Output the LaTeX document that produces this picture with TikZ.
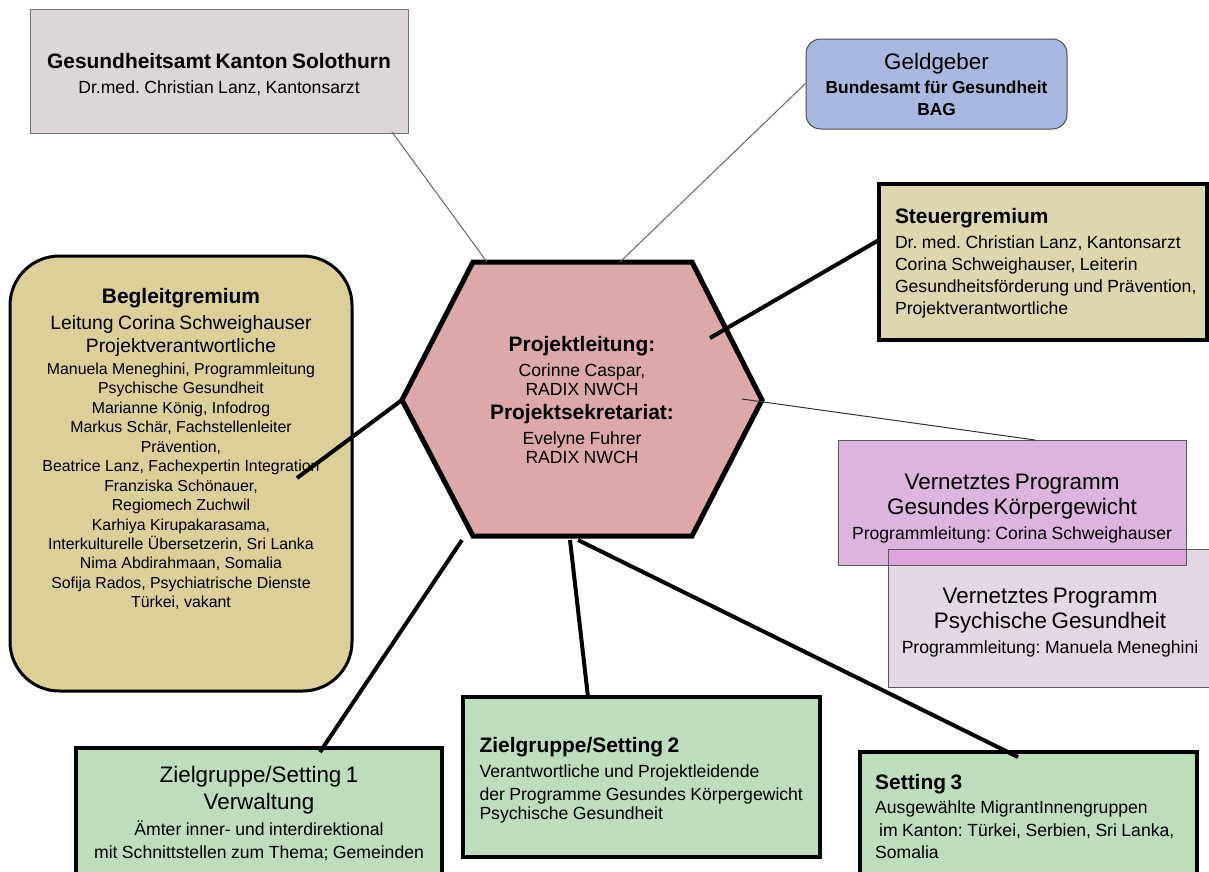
\documentclass[tikz,border=0pt]{standalone}
\usepackage{fontspec}
\setmainfont{Liberation Sans}
\usepackage{tikz}
\usetikzlibrary{positioning}
\frenchspacing

\definecolor{amtgray}{RGB}{220,214,214}
\definecolor{geldblue}{RGB}{169,184,224}
\definecolor{steuersand}{RGB}{221,214,174}
\definecolor{begleitsand}{RGB}{221,207,153}
\definecolor{hexrose}{RGB}{220,168,168}
\definecolor{zielgreen}{RGB}{189,221,189}
\definecolor{gkviolet}{RGB}{221,180,221}
\definecolor{pglilac}{RGB}{228,215,228}
\definecolor{overlapviolet}{RGB}{223,162,223}

\newcommand{\titlefont}{\fontsize{15.7}{18}\selectfont\bfseries}
\newcommand{\headfont}{\fontsize{16.8}{18.75}\selectfont\mdseries}
\newcommand{\midfont}{\fontsize{14.5}{17.25}\selectfont\mdseries}
\newcommand{\bodyfont}{\fontsize{13.2}{16.5}\selectfont\mdseries}
\newcommand{\bodybold}{\fontsize{13}{16.5}\selectfont\bfseries}
\newcommand{\listfont}{\fontsize{11.9}{14.6}\selectfont\mdseries}
\newcommand{\topstrut}[1]{\rule{0pt}{#1}}

\tikzstyle{thinbox} = [draw=black!55, line width=0.75pt, rectangle, inner sep=0pt, outer sep=0pt, align=center]
\tikzstyle{thickbox} = [draw=black, line width=3pt, rectangle, inner xsep=12pt, inner ysep=0pt, outer sep=0pt]
\tikzstyle{thinline} = [draw=black!60, line width=0.75pt]
\tikzstyle{thickline} = [draw=black, line width=3pt]

\begin{document}
\begin{tikzpicture}[x=0.75pt, y=-0.75pt]
\useasboundingbox (0,0) rectangle (1209,871);
\clip (0,0) rectangle (1209,871);

\node [thinbox, fill=amtgray, minimum width=283.5pt, minimum height=93pt, text width=270pt] (amt) at (219,71)
    {\titlefont\topstrut{16pt}Gesundheitsamt Kanton Solothurn\\[2.25pt] \bodyfont Dr.med. Christian Lanz, Kantonsarzt\par};
\node [thinbox, draw=black!70, fill=geldblue, rounded corners=11pt, minimum width=195.75pt, minimum height=67.5pt, text width=185pt] (geld) at (936.5,84)
    {\headfont Geldgeber\\[1.5pt] \bodybold Bundesamt für Gesundheit\\ BAG\par};
\node [thickbox, fill=steuersand, minimum width=246pt, minimum height=117pt, text width=222pt, align=left] (steuer) at (1043,262)
    {\titlefont\topstrut{13.5pt}Steuergremium\\[2.25pt] \bodyfont Dr. med. Christian Lanz, Kantonsarzt\\ Corina Schweighauser, Leiterin\\
     \mbox{Gesundheitsförderung und Prävention,}\\ Projektverantwortliche\par};

% Begleitgremium
\node [thickbox, line width=2.25pt, fill=begleitsand, rounded corners=37pt, minimum width=256.5pt, minimum height=326.25pt] (begleit) at (181,473.5) {};
\node [align=center, inner sep=0pt, text width=250pt] (begleittext) at (181,449)
    {\titlefont Begleitgremium\\[2.25pt] \midfont Leitung Corina Schweighauser\\ Projektverantwortliche\\[1.9pt]
     \listfont Manuela Meneghini, Programmleitung\\ Psychische Gesundheit\\ Marianne König, Infodrog\\
     Markus Schär, Fachstellenleiter\\ Prävention,\\ Beatrice Lanz, Fachexpertin Integration\\
     Franziska Schönauer,\\ Regiomech Zuchwil\\ Karhiya Kirupakarasama,\\
     Interkulturelle Übersetzerin, Sri Lanka\\ Nima Abdirahmaan, Somalia\\
     Sofija Rados, Psychiatrische Dienste\\ Türkei, vakant\par};

% Projektleitung
\coordinate (hex-nw) at (473,262);
\coordinate (hex-ne) at (692,262);
\coordinate (hex-e) at (762,400);
\coordinate (hex-se) at (692,536);
\coordinate (hex-sw) at (473,536);
\coordinate (hex-w) at (402,400);
\filldraw [fill=hexrose, draw=black, line width=3.75pt, line join=miter]
    (hex-nw) -- (hex-ne) -- (hex-e) -- (hex-se) -- (hex-sw) -- (hex-w) -- cycle;
\node [align=center, inner sep=0pt, text width=200pt] (lead) at (582,400)
    {\titlefont Projektleitung:\\[2.25pt] \bodyfont Corinne Caspar,\\[-1.9pt] RADIX NWCH\\
     \titlefont Projektsekretariat:\\[2.25pt] \bodyfont Evelyne Fuhrer\\[-1.9pt] RADIX NWCH\par};

% Vernetzte Programme
\node [thinbox, draw=black!65, fill=gkviolet, minimum width=261pt, minimum height=93.75pt, text width=255pt] (gk) at (1012,502.5)
    {\headfont\topstrut{20pt}Vernetztes Programm\\ Gesundes Körpergewicht\\[2.25pt] \bodyfont Programmleitung: Corina Schweighauser\par};
\node [thinbox, draw=black!65, fill=pglilac, minimum width=243pt, minimum height=103.5pt, text width=238pt] (pg) at (1050,618)
    {\headfont\topstrut{19pt}Vernetztes Programm\\ Psychische Gesundheit\\[2.25pt] \bodyfont Programmleitung: Manuela Meneghini\par};
\fill [overlapviolet] (pg.north west) rectangle (gk.south east);
\draw [draw=black!65, line width=0.75pt] (gk.north west) rectangle (gk.south east);
\draw [draw=black!65, line width=0.75pt] (pg.north west) rectangle (pg.south east);

% Zielgruppen
\node [thickbox, fill=zielgreen, minimum width=274.5pt, minimum height=97.5pt, text width=262pt, inner xsep=6pt, align=center] (ziel1) at (259,813)
    {\headfont Zielgruppe/Setting 1\\[1.5pt] Verwaltung\\[3pt] \bodyfont Ämter inner- und interdirektional\\[0.75pt] mit Schnittstellen zum Thema; Gemeinden\par};
\node [thickbox, fill=zielgreen, minimum width=267.75pt, minimum height=120pt, text width=243pt, align=left] (ziel2) at (641.5,777)
    {\titlefont\topstrut{16pt}Zielgruppe/Setting 2\\[2.25pt] \bodyfont Verantwortliche und Projektleidende\\[0.75pt]
     \mbox{der Programme Gesundes Körpergewicht}\\[-2.25pt] Psychische Gesundheit\par};
\node [thickbox, fill=zielgreen, minimum width=252.75pt, minimum height=96pt, text width=230pt, inner xsep=11pt, align=left] (setting3) at (1028.5,816)
    {\titlefont Setting 3\\[1.5pt] \bodyfont Ausgewählte MigrantInnengruppen\\[0.75pt] \hspace*{3pt}im Kanton: Türkei, Serbien, Sri Lanka,\\ Somalia\par};

% Verbindungen
\coordinate (amt-foot) at (392,132);
\coordinate (hex-top1) at (487,262);
\coordinate (geld-side) at (806,83);
\coordinate (hex-top2) at (620,262);
\coordinate (steuer-side) at (879,240);
\coordinate (hex-in1) at (710,338);
\coordinate (begleit-in) at (297,478);
\coordinate (hex-in2) at (742,399);
\coordinate (gk-top) at (1035,440);
\coordinate (hex-foot1) at (462,540);
\coordinate (hex-foot2) at (570,540);
\coordinate (hex-foot3) at (578,540);
\coordinate (ziel1-top) at (320,752);
\coordinate (ziel2-top) at (588,697);
\coordinate (setting3-top) at (1018,757);

\draw [thinline] (amt-foot) -- (hex-top1);
\draw [thinline] (geld-side) -- (hex-top2);
\draw [thinline, draw=black!80] (hex-in2) -- (gk-top);
\draw [thickline] (steuer-side) -- (hex-in1);
\draw [thickline] (begleit-in) -- (hex-w);
\draw [thickline] (hex-foot1) -- (ziel1-top);
\draw [thickline] (hex-foot2) -- (ziel2-top);
\draw [thickline] (hex-foot3) -- (setting3-top);
\end{tikzpicture}
\end{document}
